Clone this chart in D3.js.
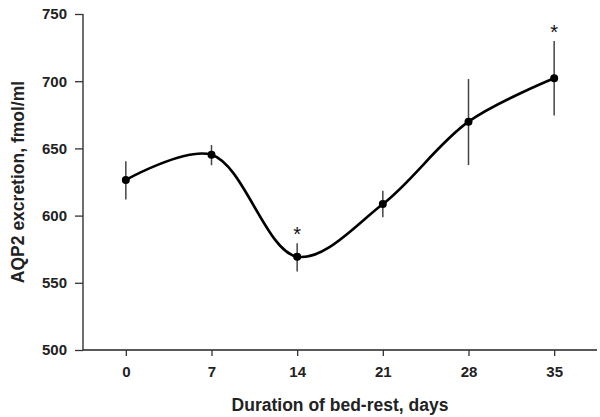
<!DOCTYPE html>
<html><head><meta charset="utf-8">
<script src="https://cdn.jsdelivr.net/npm/d3@7"></script>
<style>body{margin:0;background:#fff}svg{display:block}</style>
</head><body>
<svg id="c" width="600" height="417"></svg>
<script>
const days = [0, 7, 14, 21, 28, 35];
const means = [626.5, 645.3, 569.4, 608.6, 669.9, 702.2];
const errLow = [612, 637.5, 558.5, 598.7, 637.6, 674.5];
const errHigh = [640.5, 652.5, 579.5, 618.5, 701.6, 730];
const significant = [false, false, true, false, false, true];
const xTicks = [0, 7, 14, 21, 28, 35];
const yTicks = [500, 550, 600, 650, 700, 750];
const xLabel = "Duration of bed-rest, days";
const yLabel = "AQP2 excretion, fmol/ml";

const svg = d3.select("#c");
const x = d3.scaleLinear().domain([-3.5, 38.5]).range([83, 597]);
const y = d3.scaleLinear().domain([500, 750]).range([350, 14]);
const font = "'Liberation Sans', Arial, sans-serif";

const yAxis = svg.append("g").attr("transform", "translate(83,0)")
  .call(d3.axisLeft(y).tickValues(yTicks).tickSize(8).tickPadding(8).tickSizeOuter(0));
const xAxis = svg.append("g").attr("transform", "translate(0,350)")
  .call(d3.axisBottom(x).tickValues(xTicks).tickSize(6).tickPadding(10).tickSizeOuter(0));
[yAxis, xAxis].forEach(a => {
  a.select(".domain").attr("stroke", "#222").attr("stroke-width", 1.3);
  a.selectAll(".tick line").attr("stroke", "#333").attr("stroke-width", 1.3);
  a.selectAll("text").attr("font-family", font).attr("font-size", 15).attr("font-weight", "bold").attr("fill", "#222");
});
yAxis.select(".domain").attr("d", `M0,${y(750)}V${y(500)}`);
xAxis.select(".domain").attr("d", `M${x(-3.5)},0H${x(38.5)}`);

const data = days.map((d, i) => ({d, m: means[i], lo: errLow[i], hi: errHigh[i], s: significant[i]}));

svg.append("g").selectAll("line").data(data).join("line")
  .attr("x1", d => x(d.d)).attr("x2", d => x(d.d))
  .attr("y1", d => y(d.lo)).attr("y2", d => y(d.hi))
  .attr("stroke", "#444").attr("stroke-width", 1.5);

const line = d3.line().x(d => x(d.d)).y(d => y(d.m)).curve(d3.curveCatmullRom.alpha(0.5));
svg.append("path").datum(data).attr("d", line)
  .attr("fill", "none").attr("stroke", "#000").attr("stroke-width", 2.6);

svg.append("g").selectAll("circle").data(data).join("circle")
  .attr("cx", d => x(d.d)).attr("cy", d => y(d.m)).attr("r", 4).attr("fill", "#000");

svg.append("g").selectAll("text").data(data.filter(d => d.s)).join("text")
  .attr("x", d => x(d.d)).attr("y", d => y(d.hi) - 2)
  .attr("text-anchor", "middle").attr("font-family", font).attr("font-size", 20)
  .attr("fill", "#111").text("*");

svg.append("text").attr("x", 340).attr("y", 411).attr("text-anchor", "middle")
  .attr("font-family", font).attr("font-size", 17.5).attr("font-weight", "bold").attr("fill", "#222").text(xLabel);
svg.append("text").attr("transform", "translate(23.5,182) rotate(-90)").attr("text-anchor", "middle")
  .attr("font-family", font).attr("font-size", 17.5).attr("font-weight", "bold").attr("fill", "#222").text(yLabel);
</script>
</body></html>
